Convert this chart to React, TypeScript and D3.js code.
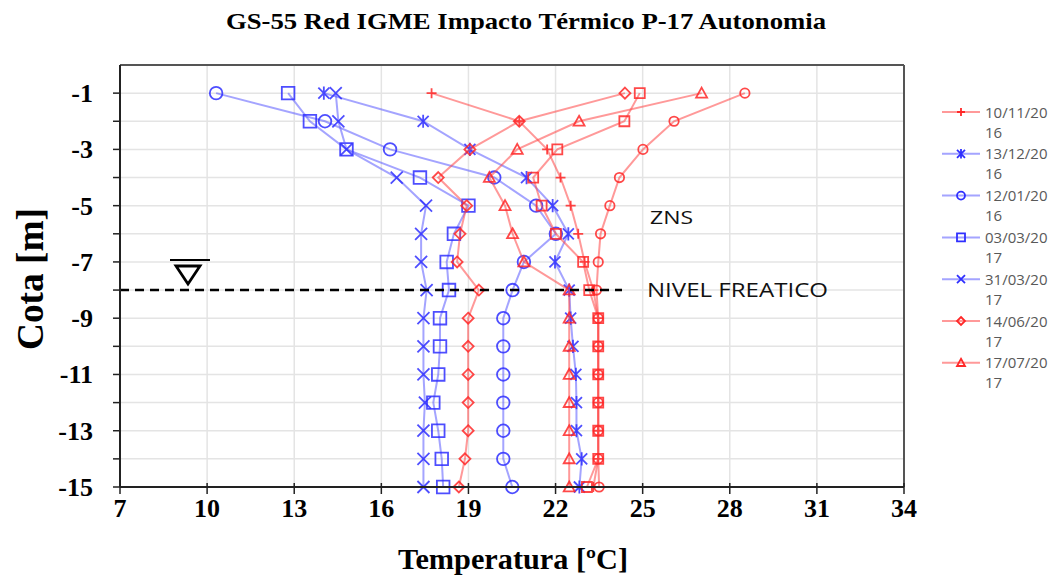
import React from 'react';
import * as d3 from 'd3';

// Depths (m) at which temperature was recorded
const depths = [-1, -2, -3, -4, -5, -6, -7, -8, -9, -10, -11, -12, -13, -14, -15];

// Temperature profiles (ºC), one per survey
const t_10_11_2016 = [17.73, 20.75, 21.71, 22.17, 22.52, 22.78, 23.0, 23.3, 23.47, 23.47, 23.47, 23.47, 23.47, 23.47, 23.3];
const t_13_12_2016 = [14.02, 17.44, 19.05, 21.0, 21.9, 22.44, 21.98, 22.47, 22.52, 22.6, 22.7, 22.72, 22.72, 22.9, 22.82];
const t_12_01_2016 = [10.31, 14.06, 16.3, 19.89, 21.33, 22.01, 20.91, 20.52, 20.2, 20.2, 20.2, 20.2, 20.2, 20.2, 20.51];
const t_03_03_2017 = [12.79, 13.54, 14.8, 17.33, 19.0, 18.5, 18.25, 18.33, 18.02, 18.02, 17.96, 17.79, 17.96, 18.08, 18.13];
const t_31_03_2017 = [14.43, 14.52, 14.8, 16.53, 17.54, 17.37, 17.37, 17.56, 17.45, 17.45, 17.45, 17.5, 17.45, 17.45, 17.45];
const t_14_06_2017 = [24.39, 20.75, 19.05, 17.96, 18.94, 18.71, 18.61, 19.36, 18.99, 18.99, 18.99, 18.99, 18.99, 18.88, 18.67];
const t_17_07_2017 = [27.03, 22.81, 20.68, 19.72, 20.26, 20.52, 20.91, 22.47, 22.47, 22.47, 22.47, 22.47, 22.47, 22.47, 22.47];
const t_extra_circle = [28.52, 26.08, 25.01, 24.2, 23.87, 23.55, 23.47, 23.41, 23.47, 23.47, 23.47, 23.47, 23.47, 23.47, 23.5];
const t_extra_square = [24.9, 24.37, 22.06, 21.23, 21.52, 22.01, 22.95, 23.16, 23.47, 23.47, 23.47, 23.47, 23.47, 23.47, 23.08];

const legendLabels = ['10/11/2016', '13/12/2016', '12/01/2016', '03/03/2017', '31/03/2017', '14/06/2017', '17/07/2017'];
const xTicks = [7, 10, 13, 16, 19, 22, 25, 28, 31, 34];
const yTicks = [-1, -2, -3, -4, -5, -6, -7, -8, -9, -10, -11, -12, -13, -14, -15];
const yTickLabels = [-1, -3, -5, -7, -9, -11, -13, -15];
const waterTableDepth = -8;

const BLUE = '#2f2fff';
const BLUE_LINE = 'rgba(90,90,255,0.55)';
const RED = '#ff2828';
const RED_LINE = 'rgba(255,70,70,0.55)';

type Series = { name: string; values: number[]; marker: string; color: string; line: string; size: number; legend: boolean };

const series: Series[] = [
  { name: legendLabels[0], values: t_10_11_2016, marker: 'plus', color: RED, line: RED_LINE, size: 5, legend: true },
  { name: legendLabels[1], values: t_13_12_2016, marker: 'star', color: BLUE, line: BLUE_LINE, size: 5.5, legend: true },
  { name: legendLabels[2], values: t_12_01_2016, marker: 'circle', color: BLUE, line: BLUE_LINE, size: 6.3, legend: true },
  { name: legendLabels[3], values: t_03_03_2017, marker: 'square', color: BLUE, line: BLUE_LINE, size: 6.3, legend: true },
  { name: legendLabels[4], values: t_31_03_2017, marker: 'x', color: BLUE, line: BLUE_LINE, size: 6, legend: true },
  { name: legendLabels[5], values: t_14_06_2017, marker: 'diamond', color: RED, line: RED_LINE, size: 5.5, legend: true },
  { name: legendLabels[6], values: t_17_07_2017, marker: 'triangle', color: RED, line: RED_LINE, size: 5.5, legend: true },
  { name: 'extra-circle', values: t_extra_circle, marker: 'circle', color: RED, line: RED_LINE, size: 4.7, legend: false },
  { name: 'extra-square', values: t_extra_square, marker: 'square', color: RED, line: RED_LINE, size: 5, legend: false },
];

function markerPath(type: string, s: number): string {
  switch (type) {
    case 'plus': return `M${-s},0H${s}M0,${-s}V${s}`;
    case 'x': return `M${-s},${-s}L${s},${s}M${-s},${s}L${s},${-s}`;
    case 'star': return `M${-s},${-s}L${s},${s}M${-s},${s}L${s},${-s}M0,${-s * 1.2}V${s * 1.2}`;
    case 'circle': return `M${s},0A${s},${s} 0 1,1 ${-s},0A${s},${s} 0 1,1 ${s},0Z`;
    case 'square': return `M${-s},${-s}H${s}V${s}H${-s}Z`;
    case 'diamond': return `M0,${-s}L${s},0L0,${s}L${-s},0Z`;
    case 'triangle': return `M0,${-s}L${s},${s * 0.8}L${-s},${s * 0.8}Z`;
  }
  return '';
}

export default function App() {
  const x = d3.scaleLinear().domain([7, 34]).range([120, 904]);
  const y = d3.scaleLinear().domain([0, -15]).range([65, 487]);
  const line = d3.line<[number, number]>().x(d => x(d[0])).y(d => y(d[1]));

  const serif = '"Liberation Serif", "Times New Roman", serif';
  const sans = '"Open Sans", "Noto Sans", sans-serif';

  return (
    <div style={{ position: 'absolute', left: 0, top: 0 }}>
      <svg width={1053} height={576} style={{ display: 'block', background: '#fff' }}>
        {/* title */}
        <text x={526} y={29} textAnchor="middle" fontFamily={serif} fontWeight="bold" fontSize={24}
          textLength={600} lengthAdjust="spacingAndGlyphs">GS-55 Red IGME Impacto Térmico  P-17 Autonomia</text>

        {/* grid */}
        {yTicks.map(t => (
          <line key={'gy' + t} x1={x(7)} x2={x(34)} y1={y(t)} y2={y(t)} stroke="#e4e4e4" strokeWidth={1.5} />
        ))}
        {xTicks.slice(1, -1).map(t => (
          <line key={'gx' + t} x1={x(t)} x2={x(t)} y1={y(0)} y2={y(-15)} stroke="#e4e4e4" strokeWidth={1.5} />
        ))}

        {/* box */}
        <line x1={x(7)} x2={x(34)} y1={y(0)} y2={y(0)} stroke="#555" strokeWidth={2} />
        <line x1={x(34)} x2={x(34)} y1={y(0)} y2={y(-15)} stroke="#555" strokeWidth={2} />

        {/* series */}
        {series.map(s => {
          const pts = s.values.map((v, i) => [v, depths[i]] as [number, number]);
          return (
            <g key={s.name}>
              <path d={line(pts) || ''} fill="none" stroke={s.line} strokeWidth={2} />
              {pts.map((p, i) => (
                <path key={i} d={markerPath(s.marker, s.size)} transform={`translate(${x(p[0])},${y(p[1])})`}
                  fill="none" stroke={s.color} strokeWidth={1.8} opacity={0.85} />
              ))}
            </g>
          );
        })}

        {/* water table line */}
        <line x1={x(7)} x2={622} y1={y(waterTableDepth)} y2={y(waterTableDepth)} stroke="#000" strokeWidth={2.5} strokeDasharray="9,6" />
        <line x1={170} x2={210} y1={260} y2={260} stroke="#000" strokeWidth={1.8} />
        <path d="M176,266L200,266L188,284Z" fill="none" stroke="#000" strokeWidth={2.8} strokeLinejoin="miter" />

        {/* annotations */}
        <text x={650} y={224} fontFamily={sans} fontSize={19} fill="#111" textLength={43} lengthAdjust="spacingAndGlyphs">ZNS</text>
        <text x={647} y={297} fontFamily={sans} fontSize={20} fill="#111" textLength={181} lengthAdjust="spacingAndGlyphs">NIVEL FREATICO</text>

        {/* axes */}
        <line x1={x(7)} x2={x(7)} y1={y(0)} y2={y(-15)} stroke="#222" strokeWidth={2} />
        <line x1={x(7)} x2={x(34)} y1={y(-15)} y2={y(-15)} stroke="#222" strokeWidth={2} />
        {yTicks.map(t => (
          <line key={'yt' + t} x1={x(7) - 7} x2={x(7)} y1={y(t)} y2={y(t)} stroke="#222" strokeWidth={1.5} />
        ))}
        {yTickLabels.map(t => (
          <text key={'yl' + t} x={93} y={y(t) + 9} textAnchor="end" fontFamily={serif} fontWeight="bold" fontSize={26}>{t}</text>
        ))}
        {xTicks.map(t => (
          <line key={'xt' + t} x1={x(t)} x2={x(t)} y1={y(-15) - 4} y2={y(-15) + 7} stroke="#222" strokeWidth={1.5} />
        ))}
        {xTicks.map(t => (
          <text key={'xl' + t} x={x(t)} y={517} textAnchor="middle" fontFamily={serif} fontWeight="bold" fontSize={26}>{t}</text>
        ))}

        <text x={513} y={569} textAnchor="middle" fontFamily={serif} fontWeight="bold" fontSize={29}
          textLength={230} lengthAdjust="spacingAndGlyphs">Temperatura [ºC]</text>
        <text transform="translate(43,279) rotate(-90)" textAnchor="middle" fontFamily={serif} fontWeight="bold" fontSize={38}
          textLength={142} lengthAdjust="spacingAndGlyphs">Cota [m]</text>

        {/* legend */}
        {series.filter(s => s.legend).map((s, i) => {
          const cy = 112 + i * 41.8;
          return (
            <g key={'lg' + s.name}>
              <line x1={942} x2={980} y1={cy} y2={cy} stroke={s.line} strokeWidth={2} />
              <path d={markerPath(s.marker, 4)} transform={`translate(961,${cy})`} fill="none" stroke={s.color} strokeWidth={1.8} />
              <text x={985} y={cy + 5.5} fontFamily={sans} fontSize={15} fill="#595959">
                <tspan x={985}>{s.name.slice(0, 8)}</tspan>
                <tspan x={985} dy={20}>{s.name.slice(8)}</tspan>
              </text>
            </g>
          );
        })}
      </svg>
    </div>
  );
}
